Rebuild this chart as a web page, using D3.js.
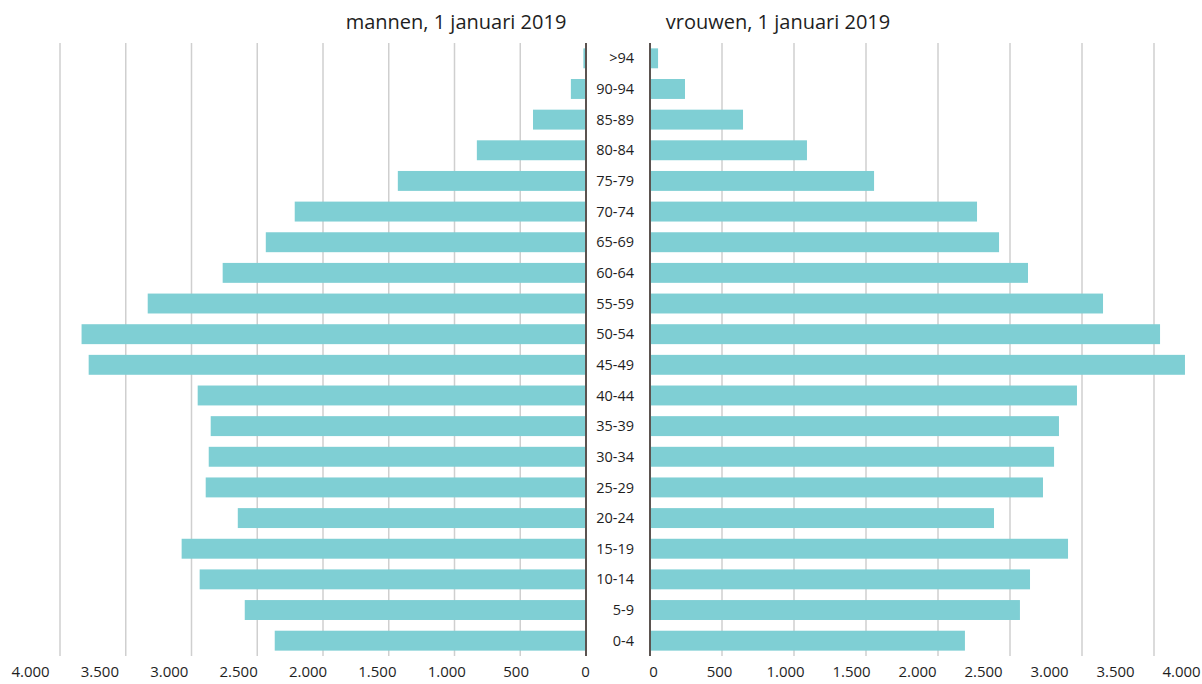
<!DOCTYPE html>
<html>
<head>
<meta charset="utf-8">
<script src="https://cdn.jsdelivr.net/npm/d3@7"></script>
<style>
  body { margin: 0; background: #fff; }
  svg text { font-family: "Open Sans", "Noto Sans", sans-serif; fill: #1e1e1e; }
</style>
</head>
<body>
<div class="svg"></div>
<script>
// age groups, top to bottom
var ageGroups = [">94", "90-94", "85-89", "80-84", "75-79", "70-74", "65-69", "60-64", "55-59", "50-54",
  "45-49", "40-44", "35-39", "30-34", "25-29", "20-24", "15-19", "10-14", "5-9", "0-4"];
var men = [20, 115, 403, 830, 1431, 2215, 2435, 2763, 3333, 3836,
  3782, 2953, 2854, 2869, 2892, 2648, 3075, 2938, 2595, 2367];
var women = [56, 243, 646, 1090, 1556, 2271, 2424, 2625, 3146, 3542,
  3715, 2965, 2840, 2806, 2729, 2389, 2903, 2639, 2569, 2187];
var tickValues = [0, 500, 1000, 1500, 2000, 2500, 3000, 3500, 4000];
var titles = ["mannen, 1 januari 2019", "vrouwen, 1 januari 2019"];

var W = 1202, H = 684,
  plotTop = 43, plotBottom = 656;

var fmt = d3.formatLocale({decimal: ",", thousands: ".", grouping: [3], currency: ["", ""]}).format(",d");

var svg = d3.select(".svg").append("svg")
  .attr("width", W)
  .attr("height", H);

var y = d3.scaleBand().domain(ageGroups).range([plotTop, plotBottom]).paddingInner(0.35).paddingOuter(0.175);

// bar / grid scales
var xL = d3.scaleLinear().domain([0, 4000]).range([586, 60]),
  xR = d3.scaleLinear().domain([0, 4000]).range([650, 1226]);
// tick label scales (labels sit slightly apart from the gridlines)
var lblL = d3.scaleLinear().domain([0, 4000]).range([585, 30]),
  lblR = d3.scaleLinear().domain([0, 4000]).range([653, 1181]);

// gridlines
[xL, xR].forEach(function(x) {
  svg.append("g")
    .selectAll("line")
    .data(tickValues.slice(1)).enter().append("line")
      .attr("x1", d => x(d)).attr("x2", d => x(d))
      .attr("y1", plotTop).attr("y2", plotBottom)
      .attr("stroke", "#cfcfcf")
      .attr("stroke-width", 1.5);
});

// bars
svg.append("g").selectAll("rect")
  .data(men).enter().append("rect")
    .attr("x", d => xL(d))
    .attr("y", (d, i) => y(ageGroups[i]))
    .attr("width", d => xL(0) - xL(d))
    .attr("height", y.bandwidth())
    .attr("fill", "#7fcfd4");
svg.append("g").selectAll("rect")
  .data(women).enter().append("rect")
    .attr("x", xR(0))
    .attr("y", (d, i) => y(ageGroups[i]))
    .attr("width", d => xR(d) - xR(0))
    .attr("height", y.bandwidth())
    .attr("fill", "#7fcfd4");

// axis lines
[xL(0), xR(0)].forEach(function(x) {
  svg.append("line")
    .attr("x1", x).attr("x2", x)
    .attr("y1", plotTop).attr("y2", plotBottom)
    .attr("stroke", "#5b5350")
    .attr("stroke-width", 2);
});

// age labels (right aligned in the gap between the two halves)
svg.append("g").selectAll("text")
  .data(ageGroups).enter().append("text")
    .attr("x", 634)
    .attr("y", d => y(d) + y.bandwidth() / 2)
    .attr("dy", "0.35em")
    .attr("text-anchor", "end")
    .style("font-size", "14.5px")
    .text(d => d);

// bottom tick labels
[lblL, lblR].forEach(function(s) {
  var g = svg.append("g")
    .attr("transform", "translate(0," + 666 + ")")
    .call(d3.axisBottom(s).tickValues(tickValues).tickFormat(fmt).tickSize(0).tickPadding(0));
  g.select(".domain").remove();
  g.selectAll("text")
    .style("font-size", "15px")
    .style("font-family", "'Open Sans', 'Noto Sans', sans-serif")
    .attr("fill", "#2a2a2a");
});

// titles
svg.append("text")
  .attr("x", 456).attr("y", 29)
  .attr("text-anchor", "middle")
  .style("font-size", "20px")
  .style("font-weight", 500)
  .text(titles[0]);
svg.append("text")
  .attr("x", 778).attr("y", 29)
  .attr("text-anchor", "middle")
  .style("font-size", "20px")
  .style("font-weight", 500)
  .text(titles[1]);
</script>
</body>
</html>
